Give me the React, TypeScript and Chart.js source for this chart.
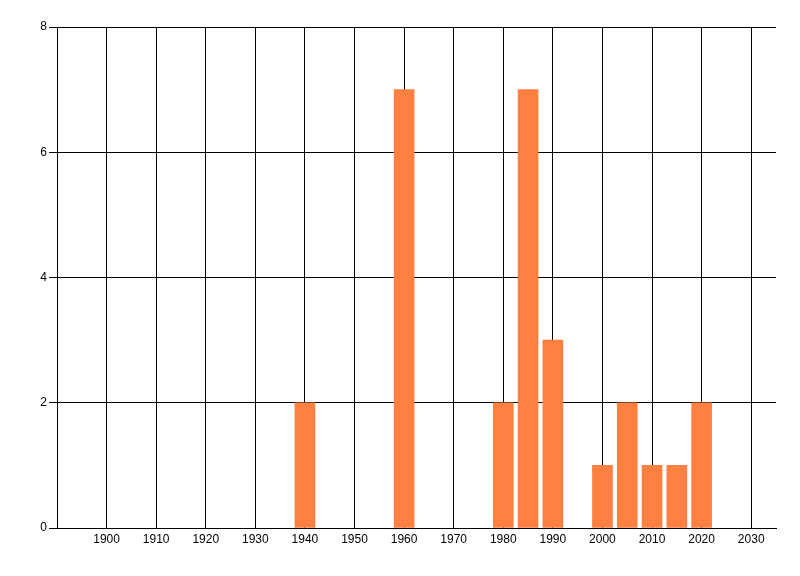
import { useEffect, useRef } from 'react';
import Chart from 'chart.js/auto';

const years = [1940, 1960, 1980, 1985, 1990, 2000, 2005, 2010, 2015, 2020];
const counts = [2, 7, 2, 7, 3, 1, 2, 1, 1, 2];
const xTickValues = [1900, 1910, 1920, 1930, 1940, 1950, 1960, 1970, 1980, 1990, 2000, 2010, 2020, 2030];
const yTickValues = [0, 2, 4, 6, 8];

const font = { family: '"Liberation Sans", Arial, sans-serif', size: 12 };

export default function App() {
  const canvasRef = useRef<HTMLCanvasElement | null>(null);

  useEffect(() => {
    if (!canvasRef.current) return;
    const ctx = canvasRef.current.getContext('2d');
    if (!ctx) return;

    const chart = new Chart(ctx, {
      type: 'bar',
      data: {
        datasets: [
          {
            label: 'Count',
            data: years.map((y, i) => ({ x: y, y: counts[i] })),
            backgroundColor: '#FF8040',
            borderWidth: 0,
            barThickness: 20,
          },
        ],
      },
      options: {
        responsive: false,
        animation: false,
        layout: { padding: { top: 27, right: 24, left: 0, bottom: 0 } },
        plugins: {
          legend: { display: false },
          tooltip: { enabled: false },
        },
        scales: {
          x: {
            type: 'linear',
            min: 1890,
            max: 2035,
            offset: false,
            afterBuildTicks: (scale: any) => {
              scale.ticks = xTickValues.map((v) => ({ value: v }));
            },
            afterFit: (scale: any) => {
              scale.height = 48;
            },
            ticks: {
              color: '#000',
              font,
              padding: 4,
              maxRotation: 0,
              autoSkip: false,
              callback: (v: any) => String(v),
            },
            grid: { color: '#000', lineWidth: 1, tickLength: 0, offset: false },
            border: { color: '#000', width: 1 },
          },
          y: {
            min: 0,
            max: 8,
            afterBuildTicks: (scale: any) => {
              scale.ticks = yTickValues.map((v) => ({ value: v }));
            },
            afterFit: (scale: any) => {
              scale.width = 57;
            },
            ticks: { color: '#000', font, padding: 2 },
            grid: { color: '#000', lineWidth: 1, tickLength: 8 },
            border: { color: '#000', width: 1 },
          },
        },
      },
    });

    return () => {
      chart.destroy();
    };
  }, []);

  return (
    <div style={{ position: 'absolute', left: 0, top: 0, width: 800, height: 576, background: '#fff' }}>
      <canvas ref={canvasRef} width={800} height={576}></canvas>
    </div>
  );
}
